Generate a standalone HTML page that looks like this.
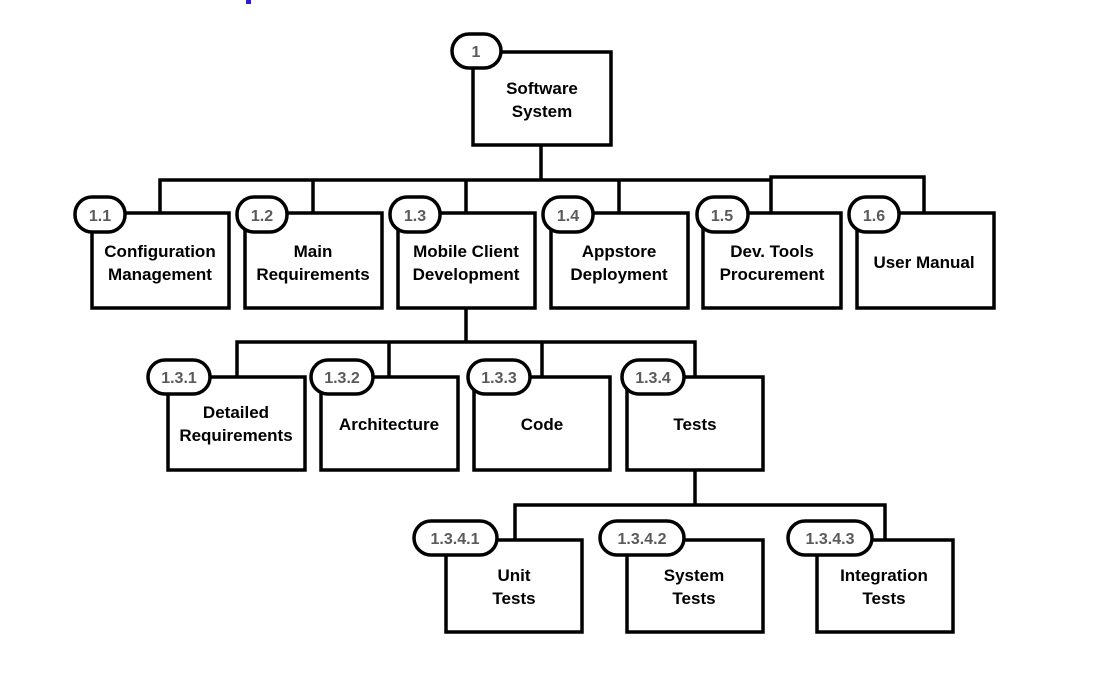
<!DOCTYPE html>
<html><head><meta charset="utf-8"><style>
html,body{margin:0;padding:0;background:#fff;}
svg{display:block;}
text{font-family:"Liberation Sans",Arial,sans-serif;font-weight:bold;}
.t{font-size:17px;fill:#000;text-anchor:middle;}
.p{font-size:16px;fill:#5a5a5a;text-anchor:middle;}
</style></head><body>
<svg width="1116" height="687" viewBox="0 0 1116 687" xmlns="http://www.w3.org/2000/svg">
<rect x="246" y="0" width="5" height="4" fill="#3020c0"/>
<g fill="none" stroke="#000" stroke-width="3.5">
<!-- level1 connectors -->
<path d="M541 145V180 M160 212V180H771 M313 180V212 M466 180V212 M619 180V212 M771 212V177H924V212"/>
<path d="M466 308V342 M237 376V342H695V376 M389 342V376 M542 342V376"/>
<path d="M695 470V505 M515 539V505H885V539"/>
</g>
<g fill="#fff" stroke="#000" stroke-width="3.5">
<rect x="473" y="52" width="138" height="93"/>
<rect x="92" y="213" width="137" height="95"/>
<rect x="245" y="213" width="137" height="95"/>
<rect x="398" y="213" width="137" height="95"/>
<rect x="551" y="213" width="137" height="95"/>
<rect x="703" y="213" width="138" height="95"/>
<rect x="857" y="213" width="137" height="95"/>
<rect x="168" y="377" width="137" height="93"/>
<rect x="321" y="377" width="137" height="93"/>
<rect x="474" y="377" width="136" height="93"/>
<rect x="627" y="377" width="136" height="93"/>
<rect x="446" y="540" width="136" height="92"/>
<rect x="627" y="540" width="136" height="92"/>
<rect x="817" y="540" width="136" height="92"/>
<!-- pills -->
<rect x="452" y="34" width="49" height="34" rx="17"/>
<rect x="75" y="197" width="50" height="35" rx="17"/>
<rect x="237" y="197" width="50" height="35" rx="17"/>
<rect x="390" y="197" width="50" height="35" rx="17"/>
<rect x="543" y="197" width="50" height="35" rx="17"/>
<rect x="697" y="197" width="51" height="35" rx="17"/>
<rect x="849" y="197" width="50" height="35" rx="17"/>
<rect x="148" y="360" width="62" height="34" rx="17"/>
<rect x="311" y="360" width="62" height="34" rx="17"/>
<rect x="468" y="360" width="62" height="34" rx="17"/>
<rect x="622" y="360" width="62" height="34" rx="17"/>
<rect x="414" y="521" width="83" height="34" rx="17"/>
<rect x="600" y="521" width="84" height="34" rx="17"/>
<rect x="788" y="521" width="84" height="34" rx="17"/>
</g>
<g class="p">
<text class="p" x="476" y="57">1</text>
<text class="p" x="100" y="221">1.1</text>
<text class="p" x="262" y="221">1.2</text>
<text class="p" x="415" y="221">1.3</text>
<text class="p" x="568" y="221">1.4</text>
<text class="p" x="722" y="221">1.5</text>
<text class="p" x="874" y="221">1.6</text>
<text class="p" x="179" y="383">1.3.1</text>
<text class="p" x="342" y="383">1.3.2</text>
<text class="p" x="499" y="383">1.3.3</text>
<text class="p" x="653" y="383">1.3.4</text>
<text class="p" x="455" y="544">1.3.4.1</text>
<text class="p" x="642" y="544">1.3.4.2</text>
<text class="p" x="830" y="544">1.3.4.3</text>
</g>
<g>
<text class="t" x="542" y="94">Software</text><text class="t" x="542" y="117">System</text>
<text class="t" x="160" y="257">Configuration</text><text class="t" x="160" y="280">Management</text>
<text class="t" x="313" y="257">Main</text><text class="t" x="313" y="280">Requirements</text>
<text class="t" x="466" y="257">Mobile Client</text><text class="t" x="466" y="280">Development</text>
<text class="t" x="619" y="257">Appstore</text><text class="t" x="619" y="280">Deployment</text>
<text class="t" x="772" y="257">Dev. Tools</text><text class="t" x="772" y="280">Procurement</text>
<text class="t" x="924" y="268">User Manual</text>
<text class="t" x="236" y="418">Detailed</text><text class="t" x="236" y="441">Requirements</text>
<text class="t" x="389" y="430">Architecture</text>
<text class="t" x="542" y="430">Code</text>
<text class="t" x="695" y="430">Tests</text>
<text class="t" x="514" y="581">Unit</text><text class="t" x="514" y="604">Tests</text>
<text class="t" x="694" y="581">System</text><text class="t" x="694" y="604">Tests</text>
<text class="t" x="884" y="581">Integration</text><text class="t" x="884" y="604">Tests</text>
</g>
</svg>
</body></html>
